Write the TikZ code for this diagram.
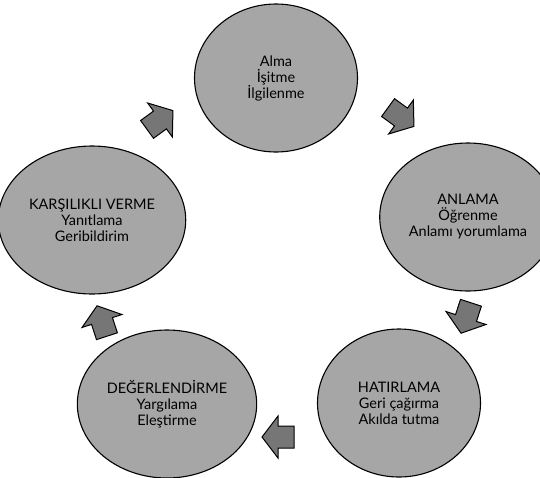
\documentclass[tikz,border=0pt]{standalone}
\usepackage{fontspec}
\setmainfont{Lato}
\usetikzlibrary{shapes.geometric}
\definecolor{stagegray}{RGB}{166,166,166}
\definecolor{turngray}{RGB}{118,118,118}

\begin{document}
\begin{tikzpicture}[x=1pt,y=-1pt,
	stage/.style={draw, ellipse, fill=stagegray, line width=1.1pt, minimum width=163pt, minimum height=148pt, align=center, font=\fontsize{14.5}{16}\selectfont},
	turn/.style={draw, fill=turngray, line width=1pt, line join=miter}]
	\useasboundingbox (0,0) rectangle (540,477);
	\node (alma) [stage] at (276, 78) {Alma\\İşitme\\İlgilenme};
	\node (anlama) [stage] at (468, 217) {ANLAMA\\Öğrenme\\Anlamı yorumlama};
	\node (hatirlama) [stage] at (399, 403) {HATIRLAMA\\Geri çağırma\\Akılda tutma};
	\node (degerlendirme) [stage] at (167, 404) {DEĞERLENDİRME\\Yargılama\\Eleştirme};
	\node (karsilikli) [stage] at (92, 220) {KARŞILIKLI VERME\\Yanıtlama\\Geribildirim};
	% block arrows between the stages
	\draw[turn, shift={(401,117)}, rotate=-36] (-16,-11) -- (0,-11) -- (0,-21) -- (16,0) -- (0,21) -- (0,11) -- (-16,11) -- cycle;
	\draw[turn, shift={(466,318)}, rotate=-108] (-16,-11) -- (0,-11) -- (0,-21) -- (16,0) -- (0,21) -- (0,11) -- (-16,11) -- cycle;
	\draw[turn, shift={(278,437)}, rotate=180] (-16,-11) -- (0,-11) -- (0,-21) -- (16,0) -- (0,21) -- (0,11) -- (-16,11) -- cycle;
	\draw[turn, shift={(102,321)}, rotate=108] (-16,-11) -- (0,-11) -- (0,-21) -- (16,0) -- (0,21) -- (0,11) -- (-16,11) -- cycle;
	\draw[turn, shift={(160,120)}, rotate=36] (-16,-11) -- (0,-11) -- (0,-21) -- (16,0) -- (0,21) -- (0,11) -- (-16,11) -- cycle;
\end{tikzpicture}
\end{document}
